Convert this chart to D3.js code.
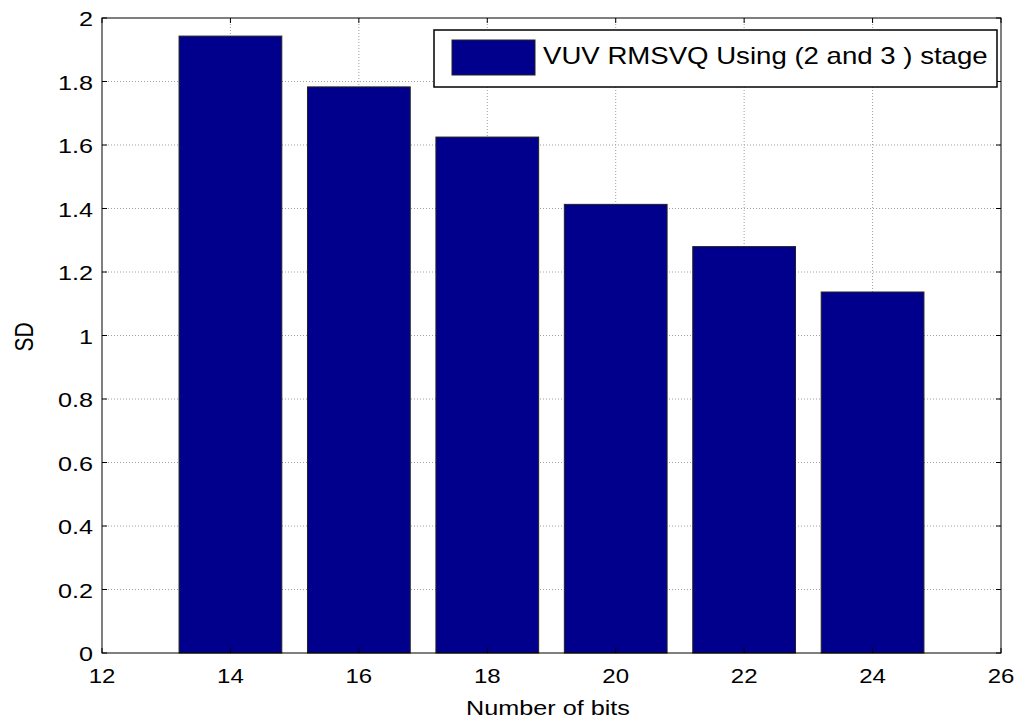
<!DOCTYPE html>
<html>
<head>
<meta charset="utf-8">
<script src="https://cdn.jsdelivr.net/npm/d3@7"></script>
<style>
  body { margin: 0; background: #fff; }
  svg { font-family: Arial, "Liberation Sans", sans-serif; }
</style>
</head>
<body>
<svg width="1022" height="722"></svg>
<script>
const bits = [14, 16, 18, 20, 22, 24];
const sdValues = [1.943, 1.783, 1.625, 1.413, 1.280, 1.137];
const xTicks = [12, 14, 16, 18, 20, 22, 24, 26];
const yTicks = [0, 0.2, 0.4, 0.6, 0.8, 1, 1.2, 1.4, 1.6, 1.8, 2];
const legendLabel = "VUV RMSVQ Using (2 and 3 ) stage";

let svg = d3.select("svg");
let plotLeft = 102, plotRight = 1001, plotTop = 18, plotBottom = 653;
// the source figure was stretched sideways, so text gets a horizontal scale
let stretch = 1.2;

let x = d3.scaleLinear().domain([12, 26]).range([plotLeft, plotRight]);
let y = d3.scaleLinear().domain([0, 2]).range([plotBottom, plotTop]);
let barColor = "#00008c";

// grid lines (dotted, MATLAB style)
let grid = svg.append("g").attr("stroke", "#a0a0a0").attr("stroke-dasharray", "1,2").attr("stroke-width", 1);
xTicks.slice(1, -1).forEach(t => {
  grid.append("line").attr("x1", x(t)).attr("x2", x(t)).attr("y1", plotTop).attr("y2", plotBottom);
});
yTicks.slice(1, -1).forEach(t => {
  grid.append("line").attr("x1", plotLeft).attr("x2", plotRight).attr("y1", y(t)).attr("y2", y(t));
});

// bars
svg.append("g")
  .selectAll("rect")
  .data(bits)
  .enter()
  .append("rect")
  .attr("x", (d) => x(d - 0.8))
  .attr("width", x(1.6) - x(0))
  .attr("y", (d, i) => y(sdValues[i]))
  .attr("height", (d, i) => y(0) - y(sdValues[i]))
  .attr("fill", barColor)
  .attr("stroke", "#222")
  .attr("stroke-width", 1);

// axes frame
svg.append("rect")
  .attr("x", plotLeft).attr("y", plotTop)
  .attr("width", plotRight - plotLeft).attr("height", plotBottom - plotTop)
  .attr("fill", "none").attr("stroke", "#000").attr("stroke-width", 1);

// ticks pointing inward on all four sides
let tickLen = 5;
let ticks = svg.append("g").attr("stroke", "#000").attr("stroke-width", 1);
xTicks.forEach(t => {
  ticks.append("line").attr("x1", x(t)).attr("x2", x(t)).attr("y1", plotBottom).attr("y2", plotBottom - tickLen);
  ticks.append("line").attr("x1", x(t)).attr("x2", x(t)).attr("y1", plotTop).attr("y2", plotTop + tickLen);
});
yTicks.forEach(t => {
  ticks.append("line").attr("x1", plotLeft).attr("x2", plotLeft + tickLen).attr("y1", y(t)).attr("y2", y(t));
  ticks.append("line").attr("x1", plotRight).attr("x2", plotRight - tickLen).attr("y1", y(t)).attr("y2", y(t));
});

// tick labels
svg.append("g")
  .selectAll("text")
  .data(xTicks)
  .enter()
  .append("text")
  .attr("transform", d => "translate(" + x(d) + "," + (plotBottom + 30) + ") scale(" + stretch + ",1)")
  .attr("text-anchor", "middle")
  .attr("font-size", 20)
  .text(d => d);

svg.append("g")
  .selectAll("text")
  .data(yTicks)
  .enter()
  .append("text")
  .attr("transform", d => "translate(" + (plotLeft - 9) + "," + (y(d) + 8) + ") scale(" + stretch + ",1)")
  .attr("text-anchor", "end")
  .attr("font-size", 21)
  .text(d => d3.format("~g")(d));

// axis titles
svg.append("text")
  .attr("transform", "translate(" + 548 + ",715) scale(" + stretch + ",1)")
  .attr("text-anchor", "middle")
  .attr("font-size", 21)
  .text("Number of bits");

svg.append("text")
  .attr("transform", "translate(33,337) scale(" + stretch + ",1) rotate(-90)")
  .attr("text-anchor", "middle")
  .attr("font-size", 21)
  .text("SD");

// legend
let legend = svg.append("g");
legend.append("rect")
  .attr("x", 434).attr("y", 30)
  .attr("width", 563).attr("height", 57)
  .attr("fill", "#fff").attr("stroke", "#000").attr("stroke-width", 1.5);
legend.append("rect")
  .attr("x", 452).attr("y", 40)
  .attr("width", 83).attr("height", 35)
  .attr("fill", barColor).attr("stroke", "#222");
legend.append("text")
  .attr("transform", "translate(543,64) scale(" + stretch + ",1)")
  .attr("font-size", 23)
  .text(legendLabel);
</script>
</body>
</html>
